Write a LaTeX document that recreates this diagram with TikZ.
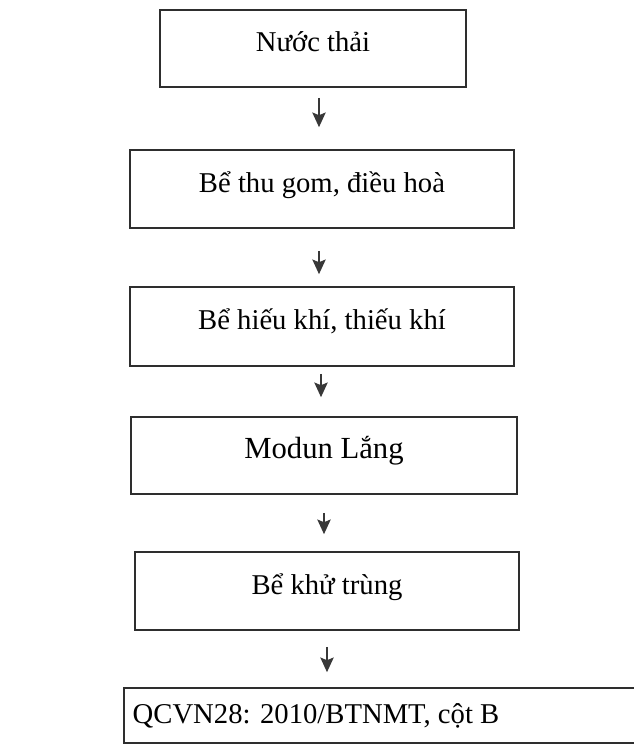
\documentclass[tikz,border=0pt]{standalone}
\usepackage{fontspec}
\setmainfont{Liberation Serif}
\usetikzlibrary{arrows.meta,calc}
\begin{document}
\begin{tikzpicture}[x=0.75pt,y=-0.75pt,
  box/.style={draw=black!82, line width=1.2pt, inner sep=0pt,
    text height=16pt, text depth=11pt, font=\fontsize{21.5}{25}\selectfont},
  lbl/.style={inner sep=0pt, font=\fontsize{21.5}{25}\selectfont},
  flow/.style={draw=black!78, line width=1.3pt,
    -{Stealth[length=11pt,width=10pt,inset=2pt]}}]
\useasboundingbox (0,0) rectangle (633,753);

% process steps
\node[box, minimum width=229.5pt, minimum height=57.75pt] (b1) at (313,48.5) {Nước thải};
\node[box, minimum width=288pt, minimum height=58.5pt] (b2) at (322,189) {Bể thu gom, điều hoà};
\node[box, minimum width=288pt, minimum height=59.25pt] (b3) at (322,326.5) {Bể hiếu khí, thiếu khí};
\node[box, minimum width=289.5pt, minimum height=57.75pt, font=\fontsize{23}{27}\selectfont] (b4) at (324,455.5) {Modun Lắng};
\node[box, minimum width=288pt, minimum height=58.5pt] (b5) at (327,591) {Bể khử trùng};

% discharge standard (box runs off the right side)
\node[box, anchor=west, minimum width=400pt, minimum height=41.25pt] (b6) at (123,715.5) {};
\node[lbl] (t6) at (316,715.5) {QCVN28: 2010/BTNMT, cột B};

% arrow columns
\coordinate (x1) at (319,0);
\coordinate (x2) at (319,0);
\coordinate (x3) at (321,0);
\coordinate (x4) at (324,0);
\coordinate (x5) at (327,0);

\draw[flow, shorten <=7.5pt,  shorten >=16.5pt]  (b1.south -| x1) -- (b2.north -| x1);
\draw[flow, shorten <=16.5pt, shorten >=9pt]     (b2.south -| x2) -- (b3.north -| x2);
\draw[flow, shorten <=5.25pt, shorten >=14.25pt] (b3.south -| x3) -- (b4.north -| x3);
\draw[flow, shorten <=13.5pt, shorten >=12.75pt] (b4.south -| x4) -- (b5.north -| x4);
\draw[flow, shorten <=12pt,   shorten >=11.25pt] (b5.south -| x5) -- (b6.north -| x5);
\end{tikzpicture}
\end{document}
